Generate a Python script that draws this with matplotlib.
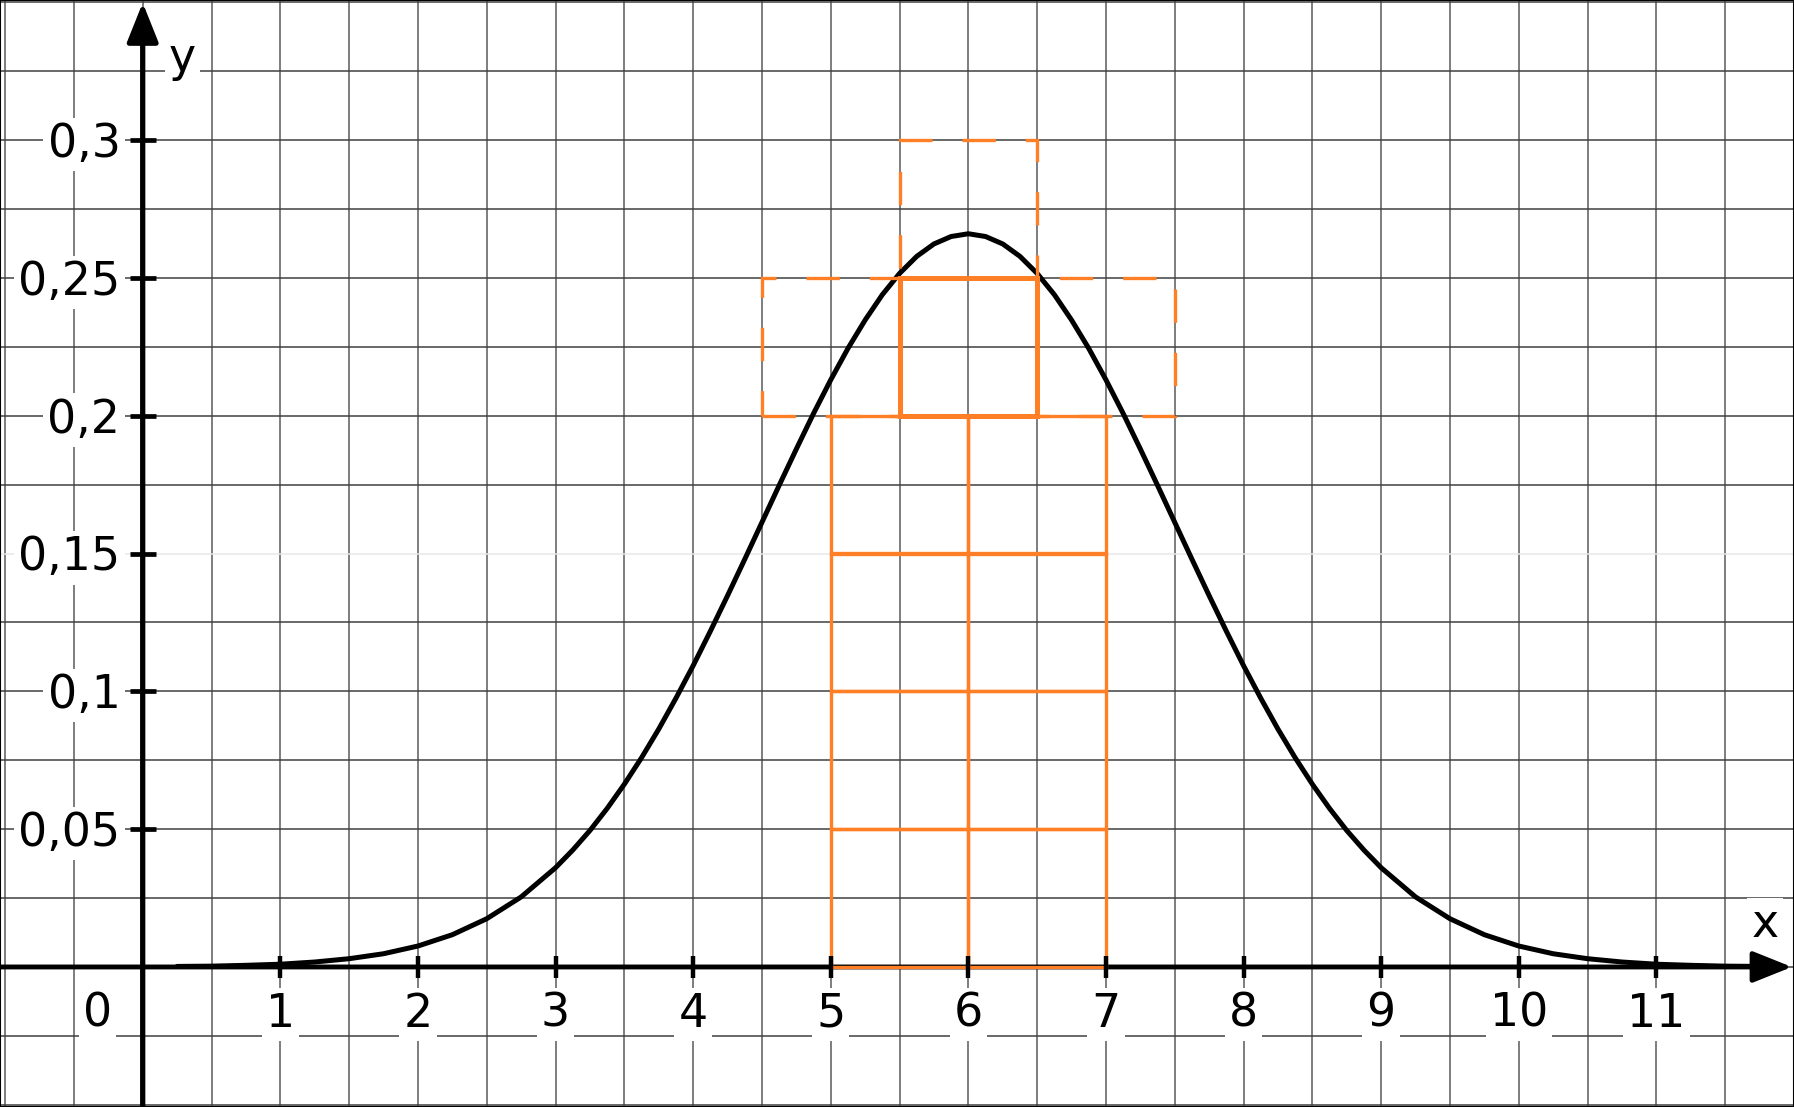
import numpy as np
import matplotlib
matplotlib.use("Agg")
import matplotlib.pyplot as plt
from matplotlib.patches import Rectangle

# ---- data ----
curve_x = [0.25, 0.5, 0.75, 1.0, 1.25, 1.5, 1.75, 2.0, 2.25, 2.5, 2.75, 3.0,
           3.125, 3.25, 3.375, 3.5, 3.625, 3.75, 3.875, 4.0, 4.125, 4.25,
           4.375, 4.5, 4.625, 4.75, 4.875, 5.0, 5.125, 5.25, 5.375, 5.5,
           5.625, 5.75, 5.875, 6.0, 6.125, 6.25, 6.375, 6.5, 6.625, 6.75,
           6.875, 7.0, 7.125, 7.25, 7.375, 7.5, 7.625, 7.75, 7.875, 8.0,
           8.125, 8.25, 8.375, 8.5, 8.625, 8.75, 8.875, 9.0,
           9.25, 9.5, 9.75, 10.0, 10.25, 10.5, 10.75, 11.0, 11.25, 11.5, 11.75]
curve_y = [0.0002, 0.0003, 0.0006, 0.0010, 0.0018, 0.0030, 0.0048, 0.0076,
           0.0117, 0.0175, 0.0254, 0.0360,
           0.0424, 0.0495, 0.0575, 0.0663, 0.0759, 0.0863, 0.0975, 0.1093,
           0.1218, 0.1347, 0.1479, 0.1613, 0.1747, 0.1879, 0.2008, 0.2130,
           0.2244, 0.2347, 0.2439, 0.2516, 0.2578, 0.2623, 0.2650, 0.2660,
           0.2650, 0.2623, 0.2578, 0.2516, 0.2439, 0.2347, 0.2244, 0.2130,
           0.2008, 0.1879, 0.1747, 0.1613, 0.1479, 0.1347, 0.1218, 0.1093,
           0.0975, 0.0863, 0.0759, 0.0663, 0.0575, 0.0495, 0.0424, 0.0360,
           0.0254, 0.0175, 0.0117, 0.0076, 0.0048, 0.0030, 0.0018, 0.0010,
           0.0006, 0.0003, 0.0002]

x_tick_values = [1, 2, 3, 4, 5, 6, 7, 8, 9, 10, 11]
x_tick_labels = ["1", "2", "3", "4", "5", "6", "7", "8", "9", "10", "11"]
y_tick_values = [0.05, 0.1, 0.15, 0.2, 0.25, 0.3]
y_tick_labels = ["0,05", "0,1", "0,15", "0,2", "0,25", "0,3"]

stack_columns = [5, 6]                 # left edges of the unit-wide columns
stack_bottoms = [0, 0.05, 0.1, 0.15]   # bottoms of the cells
cell_width = 1.0
cell_height = 0.05
top_cell = (5.5, 0.2, 1.0, 0.05)       # left, bottom, width, height (thick solid)
dashed_cells = [(4.5, 0.2, 3.0, 0.05), (5.5, 0.25, 1.0, 0.05)]

# ---- figure ----
ORANGE = "#ff7f27"
fig = plt.figure(figsize=(17.94, 11.07), dpi=100)
ax = fig.add_axes([0, 0, 1, 1])
XMIN, XMAX = -1.037, 12.0
YMIN, YMAX = -0.0508, 0.3508
ax.set_xlim(XMIN, XMAX)
ax.set_ylim(YMIN, YMAX)
ax.set_xticks([])
ax.set_yticks([])
for s in ax.spines.values():
    s.set_linewidth(1.5)
    s.set_color("black")

# grid
for gx in np.arange(-1, 12.01, 0.5):
    ax.axvline(gx, color="#5a5a5a", lw=1.1, zorder=1)
for gy in np.arange(-0.05, 0.3501, 0.025):
    col = "#e8e8e8" if abs(gy - 0.15) < 1e-9 else "#404040"
    ax.axhline(gy, color=col, lw=1.1, zorder=1)

# curve
ax.plot(curve_x, curve_y, color="black", lw=3.6, zorder=3,
        solid_capstyle="round", solid_joinstyle="round")

# orange cells
for cx in stack_columns:
    for cy in stack_bottoms:
        ax.add_patch(Rectangle((cx, cy), cell_width, cell_height, fill=False,
                               edgecolor=ORANGE, lw=2.4, zorder=6))
ax.add_patch(Rectangle(top_cell[:2], top_cell[2], top_cell[3], fill=False,
                       edgecolor=ORANGE, lw=3.6, zorder=6))
for (l, b, w, h) in dashed_cells:
    ax.add_patch(Rectangle((l, b), w, h, fill=False, edgecolor=ORANGE, lw=2.4,
                           linestyle=(0, (10, 9)), zorder=6))

# axes with arrows
arrow_kw = dict(arrowstyle="-|>,head_length=1.2,head_width=0.48",
                mutation_scale=20, color="black", shrinkA=0, shrinkB=0)
ax.annotate("", xy=(XMAX - 0.015, 0), xytext=(XMIN, 0),
            arrowprops=dict(lw=3.5, **arrow_kw), zorder=5)
ax.annotate("", xy=(0, YMAX - 0.001), xytext=(0, YMIN),
            arrowprops=dict(lw=3.8, **arrow_kw), zorder=5)

# tick marks
ax.plot(x_tick_values, [0] * len(x_tick_values), ls="none", marker="|",
        ms=16, mew=3.2, color="black", zorder=7)
ax.plot([0] * len(y_tick_values), y_tick_values, ls="none", marker="_",
        ms=19, mew=3.4, color="black", zorder=7)

# labels
box = dict(facecolor="white", edgecolor="none", pad=3)
FS = 33
for v, lab in zip(x_tick_values, x_tick_labels):
    ax.annotate(lab, xy=(v, 0), xytext=(0, -43), textcoords="offset points",
                ha="center", va="baseline", fontsize=FS, bbox=box, zorder=4)
ax.annotate("0", xy=(-0.33, 0), xytext=(0, -43), textcoords="offset points",
            ha="center", va="baseline", fontsize=FS, bbox=box, zorder=4)
for v, lab in zip(y_tick_values, y_tick_labels):
    ax.annotate(lab, xy=(0, v), xytext=(-16, -12.2), textcoords="offset points",
                ha="right", va="baseline", fontsize=FS, bbox=box, zorder=4)
ax.text(0.287, 0.325, "y", ha="center", va="baseline", fontsize=FS,
        bbox=box, zorder=4)
ax.text(11.79, 0.0109, "x", ha="center", va="baseline", fontsize=FS,
        bbox=box, zorder=4)

fig.savefig("out.png", dpi=100)
